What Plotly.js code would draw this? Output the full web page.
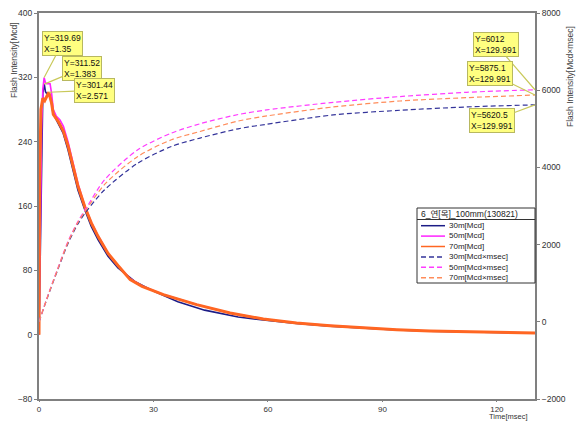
<!DOCTYPE html>
<html>
<head>
<meta charset="utf-8">
<script src="https://cdn.plot.ly/plotly-3.0.1.min.js"></script>
<style>html,body{margin:0;padding:0;background:#fff;}#chart{width:583px;height:422px;}</style>
</head>
<body>
<div id="chart"></div>
<script>
// ---- Data ----
const legendTitle = "6_연[목]_100mm(130821)";
const seriesNames = ["30m[Mcd]", "50m[Mcd]", "70m[Mcd]", "30m[Mcd×msec]", "50m[Mcd×msec]", "70m[Mcd×msec]"];

// Flash intensity [Mcd] (left axis)
const t30 = [0, 0.3, 0.7, 1.0, 1.383, 1.7, 2.0, 2.6, 3.0, 3.67, 4.98, 6.3, 7.6, 8.9, 10.2, 12.0, 13.7, 15.5, 18.1, 20.7, 25.1, 30.3, 36.4, 43.4, 52.2, 58.8, 67.5, 76.3, 85, 93.8, 102.5, 111.2, 120, 129.991];
const i30 = [0, 110, 250, 300, 311.52, 302, 300, 300, 296, 275.7, 263, 251, 230, 205, 180, 155.5, 134.7, 118, 97.4, 83, 66.3, 53.5, 41, 30.5, 22, 18.3, 13.8, 10.6, 7.8, 5.8, 4.3, 3.4, 2.6, 1.9];

const t50 = [0, 0.3, 0.7, 1.0, 1.35, 1.7, 2.0, 2.9, 3.3, 3.75, 4.5, 5.5, 6.4, 7.6, 8.9, 10.2, 12.0, 13.7, 15.5, 18.1, 20.7, 23.9, 27, 32.6, 41.3, 50.1, 58.8, 67.5, 76.3, 85, 93.8, 102.5, 111.2, 120, 129.991];
const i50 = [0, 120, 260, 305, 319.69, 313, 312, 312, 300, 280, 272, 267, 259, 240, 214, 188, 160, 140, 123, 101, 86, 69.5, 60.5, 50, 37.5, 27, 19.5, 14.5, 11.2, 8.3, 6.2, 4.6, 3.7, 2.9, 2.1];

const t70 = [0, 0.15, 0.5, 1.0, 1.5, 2.0, 2.571, 3.3, 3.75, 5.06, 6.4, 7.6, 8.9, 10.2, 12.0, 13.7, 15.5, 18.1, 20.7, 23.9, 27, 32.6, 41.3, 50.1, 58.8, 67.5, 76.3, 85, 93.8, 102.5, 111.2, 120, 129.991];
const i70 = [0, 185, 280, 294, 291, 296, 301.44, 288, 274, 265, 253, 235, 210, 185, 159, 139, 122, 101, 86, 68.4, 60, 49.8, 37.3, 27, 19.5, 14.5, 11.2, 8.3, 6.2, 4.6, 3.7, 2.9, 2.1];

// Cumulative [Mcd×msec] (right axis)
const tc  = [0, 2.36, 4.98, 7.6, 10.2, 12.4, 17.2, 25.9, 34.7, 42.2, 52.2, 59.7, 77.1, 94.6, 112.1, 129.991];
const c30 = [0, 670, 1365, 2030, 2535, 2860, 3420, 4111, 4542, 4760, 5000, 5118, 5359, 5480, 5566, 5620.5];
const c50 = [0, 690, 1400, 2080, 2600, 2950, 3679, 4456, 4888, 5130, 5370, 5490, 5685, 5835, 5945, 6012];
const c70 = [0, 680, 1385, 2060, 2575, 2910, 3560, 4283, 4715, 4930, 5200, 5333, 5566, 5720, 5807, 5875.1];

const xTicks = [0, 30, 60, 90, 120];
const yTicks = [-80, 0, 80, 160, 240, 320, 400];
const y2Ticks = [-2000, 0, 2000, 4000, 6000, 8000];

// Callouts: [x, y, axis, text-Y, text-X]
const callouts = [
  [1.35, 319.69, 'y', '319.69', '1.35'],
  [1.383, 311.52, 'y', '311.52', '1.383'],
  [2.571, 301.44, 'y', '301.44', '2.571'],
  [129.991, 6012, 'y2', '6012', '129.991'],
  [129.991, 5875.1, 'y2', '5875.1', '129.991'],
  [129.991, 5620.5, 'y2', '5620.5', '129.991']
];

// ---- Styles ----
const colors = ['#1c1c86', '#ff22ff', '#ff6622', '#34349a', '#ff3cff', '#ff8c5a'];
const widths = [1.6, 1.6, 3, 1.2, 1.2, 1.2];
const dashes = ['solid', 'solid', 'solid', '5px,3px', '5px,3px', '5px,3px'];
const shapesLine = ['linear', 'linear', 'linear', 'spline', 'spline', 'spline'];
const calloutOffsets = [[18, -34], [38, -16], [46, -2], [-39, -45], [-45, -22], [-43, 16]];

const xs = [t30, t50, t70, tc, tc, tc];
const ys = [i30, i50, i70, c30, c50, c70];
const axes = ['y', 'y', 'y', 'y2', 'y2', 'y2'];

const traces = xs.map((x, k) => ({
  x: x, y: ys[k], yaxis: axes[k], type: 'scatter', mode: 'lines', name: seriesNames[k],
  line: {color: colors[k], width: widths[k], dash: dashes[k], shape: shapesLine[k], smoothing: 0.8},
  hoverinfo: 'skip'
}));

const FONT = 'Liberation Sans, Arial, sans-serif';
const tickFont = {family: FONT, size: 8.5, color: '#333'};
const axisCommon = {
  showline: true, linecolor: '#808080', linewidth: 2, ticks: 'outside', ticklen: 3,
  tickcolor: '#808080', tickwidth: 1, showgrid: false, zeroline: false, tickfont: tickFont
};

// plot geometry in px
const L = 39, T = 13, W = 496, H = 386;
const px = v => (v - L) / W;
const py = v => (T + H - v) / H;

const annotations = callouts.map((c, k) => ({
  x: c[0], y: c[1], xref: 'x', yref: c[2],
  text: 'Y=' + c[3] + '<br>X=' + c[4], align: 'left',
  showarrow: true, arrowhead: 0, arrowwidth: 1.2, arrowcolor: '#c9c95a',
  ax: calloutOffsets[k][0], ay: calloutOffsets[k][1],
  bgcolor: '#ffff80', bordercolor: '#b8b860', borderwidth: 1, borderpad: 1,
  font: {family: FONT, size: 8.5, color: '#111'}
}));

function paperText(xp, yp, text, opts) {
  return Object.assign({xref: 'paper', yref: 'paper', x: px(xp), y: py(yp), text: text,
    xanchor: 'center', yanchor: 'middle', showarrow: false,
    font: {family: FONT, size: 8.5, color: '#444'}}, opts || {});
}

// Axis titles
annotations.push(paperText(14, 60, 'Flash Intensity[Mcd]', {textangle: -90}));
annotations.push(paperText(570, 77, 'Flash Intensity[Mcd×msec]', {textangle: -90}));
annotations.push(paperText(528, 422, 'Time[msec]', {xanchor: 'right', yanchor: 'bottom', borderpad: 0,
  font: {family: FONT, size: 7.5, color: '#333'}}));

// Compact legend
const lgL = 417, lgR = 535, lgT = 208, lgMid = 219.5, lgB = 283;
const rowTop = 225.7, rowGap = 10.4;
const shapes = [
  {type: 'rect', xref: 'paper', yref: 'paper', x0: px(lgL), x1: px(lgR), y0: py(lgB), y1: py(lgT),
   line: {color: '#333', width: 1}, fillcolor: '#fff', layer: 'above'},
  {type: 'line', xref: 'paper', yref: 'paper', x0: px(lgL), x1: px(lgR), y0: py(lgMid), y1: py(lgMid),
   line: {color: '#333', width: 1}, layer: 'above'}
];
annotations.push(paperText(lgL + 2, (lgT + lgMid) / 2, legendTitle,
  {xanchor: 'left', align: 'left',
   font: {family: 'Liberation Sans, Noto Sans CJK KR, sans-serif', size: 8.5, color: '#222'}}));
seriesNames.forEach((nm, k) => {
  const yy = rowTop + k * rowGap;
  shapes.push({type: 'line', xref: 'paper', yref: 'paper', x0: px(421), x1: px(445), y0: py(yy), y1: py(yy),
    line: {color: colors[k], width: 1.5, dash: dashes[k]}, layer: 'above'});
});
annotations.push(paperText(448, rowTop + 2.5 * rowGap, seriesNames.join('<br>'),
  {xanchor: 'left', align: 'left', borderpad: 0, font: {family: FONT, size: 8, color: '#222'}}));

const layout = {
  width: 583, height: 422,
  margin: {l: L, r: 583 - L - W, t: T, b: 422 - T - H, pad: 0},
  paper_bgcolor: '#fff', plot_bgcolor: '#fff', showlegend: false,
  xaxis: Object.assign({}, axisCommon, {range: [0, 130], tickvals: xTicks, mirror: true, ticklen: 1,
    tickfont: {family: FONT, size: 8, color: '#333'}}),
  yaxis: Object.assign({}, axisCommon, {range: [-80, 400], tickvals: yTicks}),
  yaxis2: Object.assign({}, axisCommon, {range: [-2000, 8000], tickvals: y2Ticks, overlaying: 'y', side: 'right'}),
  annotations: annotations, shapes: shapes
};

Plotly.newPlot('chart', traces, layout, {staticPlot: true, displayModeBar: false});
</script>
</body>
</html>
